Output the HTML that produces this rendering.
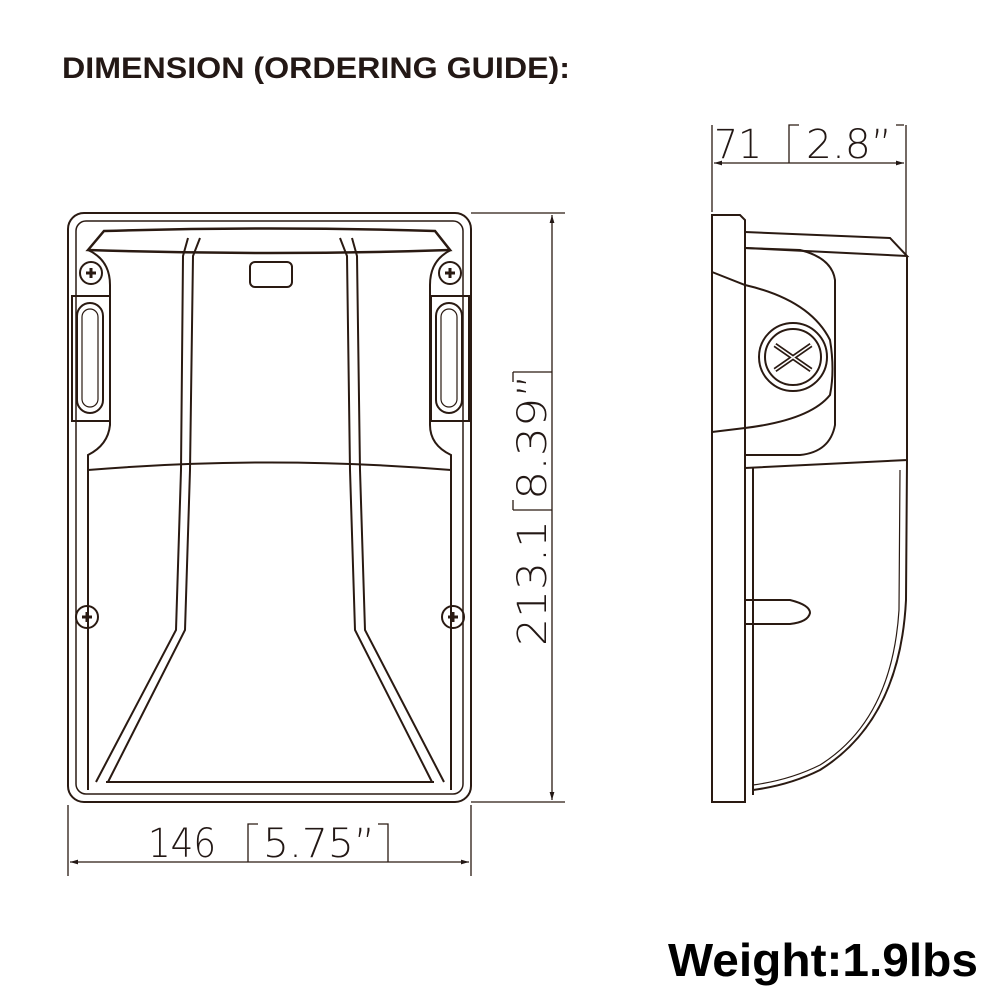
<!DOCTYPE html>
<html><head><meta charset="utf-8"><style>
html,body{margin:0;padding:0;background:#fff;width:1000px;height:1000px;overflow:hidden}
</style></head><body>
<svg width="1000" height="1000" viewBox="0 0 1000 1000" xmlns="http://www.w3.org/2000/svg">
<defs>
<marker id="ar" viewBox="0 0 10 10" refX="10" refY="5" markerWidth="10" markerHeight="8" orient="auto-start-reverse" markerUnits="userSpaceOnUse"><path d="M0,2 L10,5 L0,8 z" fill="#231815"/></marker>
</defs>
<text x="62" y="78" font-family="Liberation Sans, sans-serif" font-weight="bold" font-size="30" fill="#231815" textLength="508" lengthAdjust="spacingAndGlyphs">DIMENSION (ORDERING GUIDE):</text>
<text x="668" y="976" font-family="Liberation Sans, sans-serif" font-weight="bold" font-size="46" fill="#000" textLength="310" lengthAdjust="spacingAndGlyphs">Weight:1.9lbs</text>

<g fill="none" stroke="#2a1a12" stroke-width="2">
<rect x="68" y="213" width="403" height="589" rx="16"/>
<rect x="76" y="221" width="387" height="573" rx="10" stroke-width="1.5"/>
<path d="M88,250 L104,231 Q270,226 435,231 L450,250 Q270,256 88,250 Z" stroke-width="2.5"/>
<path d="M88,250 Q110,260 110,285 L110,425 Q108,445 88,455 L88,470 Q270,455 451,470 L451,455 Q430,445 430,425 L430,285 Q430,260 451,250"/>
<path d="M200,238 L193,256 L190,470 L185,630 L108,782"/>
<path d="M188,238 L183,256 L181,470 L176,630 L96,782"/>
<path d="M340,238 L347,256 L350,470 L355,630 L432,782"/>
<path d="M352,238 L357,256 L360,470 L365,630 L444,782"/>
<path d="M106,782 L434,782"/>
<path d="M88,470 L88,790 M451,470 L451,790"/>
<rect x="250" y="262" width="42" height="25" rx="5"/>
<rect x="72" y="296" width="38" height="125"/>
<rect x="77" y="303" width="26" height="110" rx="13"/>
<rect x="82" y="309" width="16" height="98" rx="8" stroke-width="1.2"/>
<rect x="431" y="296" width="38" height="125"/>
<rect x="436" y="303" width="26" height="110" rx="13"/>
<rect x="441" y="309" width="16" height="98" rx="8" stroke-width="1.2"/>
<circle cx="91" cy="273" r="11"/><circle cx="450" cy="273" r="11"/>
<circle cx="87" cy="617" r="11"/><circle cx="453" cy="617" r="11"/>
<path d="M86,273h10M91,268v10M445,273h10M450,268v10M82,617h10M87,612v10M448,617h10M453,612v10" stroke-width="3"/>

<path d="M712,215 L740,215 L745,220 L745,802 L712,802 Z"/>
<path d="M745,232 L890,238 L907,256 L745,248"/>
<path d="M745,248 L800,250 Q832,258 835,280 L835,425 Q830,452 800,455 L745,455"/>
<path d="M712,272 L745,285 Q810,300 830,340 Q835,370 830,395 Q810,420 745,428 L712,432"/>
<circle cx="793" cy="357" r="34"/><circle cx="793" cy="357" r="28"/>
<path d="M775,345 L811,370 M811,345 L775,370" stroke-width="5"/>
<path d="M775,345 L811,370 M811,345 L775,370" stroke="#fff" stroke-width="1.5"/>
<path d="M907,256 L907,460 L745,468"/>
<path d="M753,468 L753,795"/>
<path d="M907,460 L906,600 Q900,720 820,770 Q790,785 753,790"/>
<path d="M900,470 L899,610 Q892,720 820,765 Q790,780 753,785" stroke-width="1.2"/>
<path d="M745,600 L790,600 Q810,605 810,613 Q808,622 790,624 L745,624"/>

<g stroke-width="1.3">
<path d="M471,213 L565,213 M471,802 L565,802"/>
<path d="M552,215 L552,800" marker-start="url(#ar)" marker-end="url(#ar)"/>
<path d="M68,805 L68,876 M471,805 L471,876"/>
<path d="M70,862 L469,862" marker-start="url(#ar)" marker-end="url(#ar)"/>
<path d="M712,125 L712,212 M906,125 L906,255"/>
<path d="M714,163 L904,163" marker-start="url(#ar)" marker-end="url(#ar)"/>
<path d="M258,824 L248,824 L248,862 M378,824 L388,824 L388,862"/>
<path d="M799,125 L789,125 L789,163 M896,125 L904,125"/>
<path d="M513,372 L552,372 M513,510 L552,510 M513,510 L513,500 M513,372 L513,382"/>
</g>
</g>
<g font-family="DejaVu Sans, Liberation Sans, sans-serif" font-weight="200" fill="#231815" font-size="40">
<text x="148" y="857" textLength="68" lengthAdjust="spacingAndGlyphs">146</text>
<text x="263" y="857" textLength="112" lengthAdjust="spacingAndGlyphs">5.75”</text>
<text x="714" y="158" textLength="48" lengthAdjust="spacingAndGlyphs">71</text>
<text x="806" y="158" textLength="86" lengthAdjust="spacingAndGlyphs">2.8”</text>
<text transform="translate(546,646) rotate(-90)" textLength="126" lengthAdjust="spacingAndGlyphs">213.1</text>
<text transform="translate(546,500) rotate(-90)" textLength="126" lengthAdjust="spacingAndGlyphs">8.39”</text>
</g>
</svg>
</body></html>
